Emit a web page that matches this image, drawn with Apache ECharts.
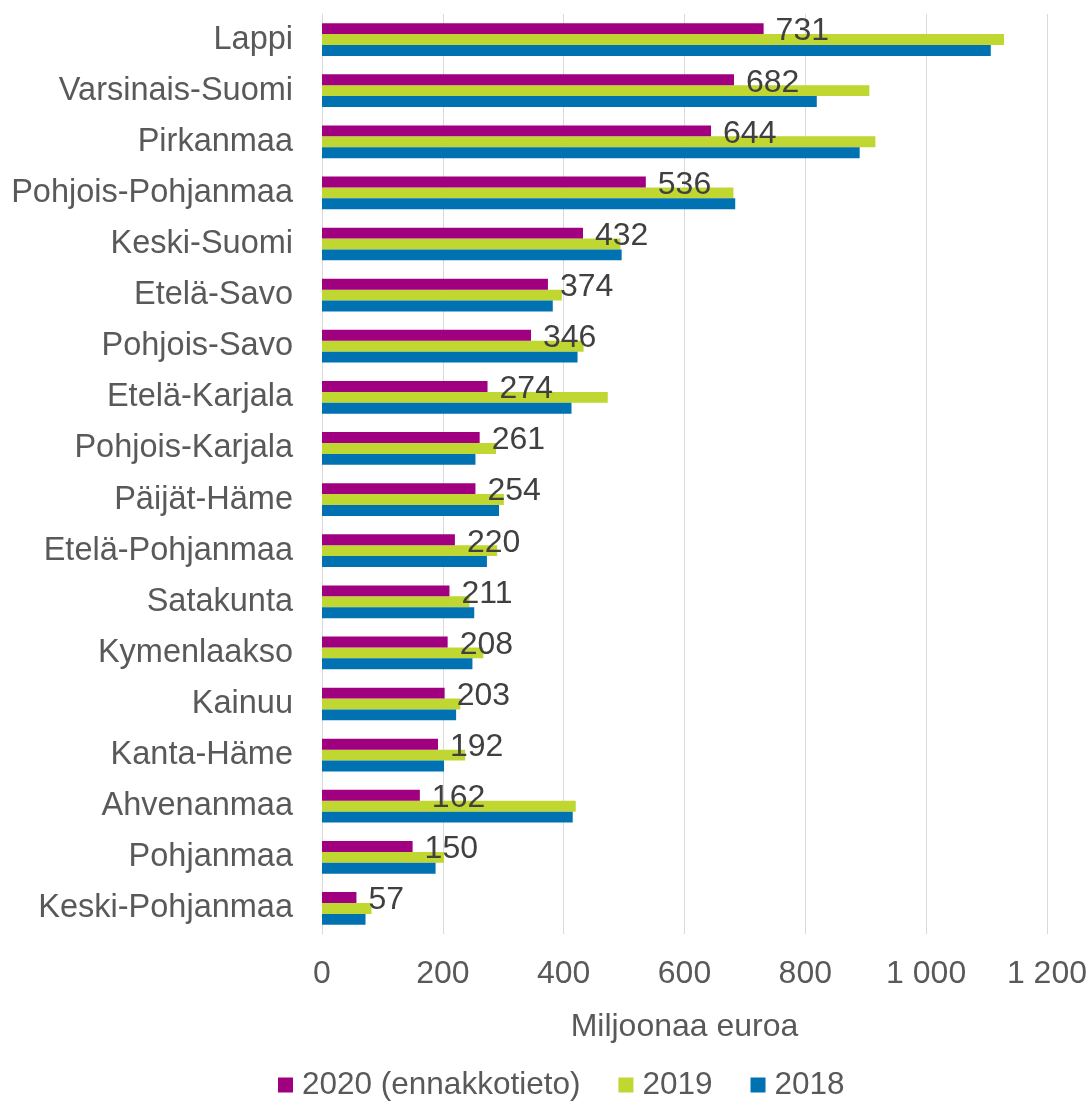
<!DOCTYPE html>
<html>
<head>
<meta charset="utf-8">
<script src="https://cdn.jsdelivr.net/npm/echarts@6/dist/echarts.min.js"></script>
<style>
  html, body { margin: 0; padding: 0; background: #fff; }
  #chart { width: 1090px; height: 1102px; }
</style>
</head>
<body>
<div id="chart"></div>
<script>
// maakunnat
var regions = ['Lappi', 'Varsinais-Suomi', 'Pirkanmaa', 'Pohjois-Pohjanmaa', 'Keski-Suomi',
    'Etelä-Savo', 'Pohjois-Savo', 'Etelä-Karjala', 'Pohjois-Karjala', 'Päijät-Häme',
    'Etelä-Pohjanmaa', 'Satakunta', 'Kymenlaakso', 'Kainuu', 'Kanta-Häme',
    'Ahvenanmaa', 'Pohjanmaa', 'Keski-Pohjanmaa'];
var values2020 = [731, 682, 644, 536, 432, 374, 346, 274, 261, 254, 220, 211, 208, 203, 192, 162, 150, 57];
var values2019 = [1129, 906, 916, 681, 494, 397, 433, 473, 288, 301, 290, 244, 267, 229, 237, 420, 202, 82];
var values2018 = [1107, 819, 890, 684, 496, 382, 423, 413, 254, 293, 273, 252, 249, 222, 202, 415, 188, 72];
var seriesNames = ['2020 (ennakkotieto)', '2019', '2018'];

var font = 'Liberation Sans, Arial, sans-serif';

var chart = echarts.init(document.getElementById('chart'));
chart.setOption({
    animation: false,
    grid: { left: 322, right: 43, top: 14, bottom: 168, containLabel: false },
    legend: {
        data: seriesNames,
        top: 1064,
        left: 273,
        icon: 'rect',
        itemWidth: 15,
        itemHeight: 15,
        itemGap: 38,
        textStyle: { fontFamily: font, fontSize: 31.5, color: '#595959', padding: [0, 0, 0, 4] }
    },
    xAxis: {
        type: 'value',
        min: 0,
        max: 1200,
        interval: 200,
        name: 'Miljoonaa euroa',
        nameLocation: 'middle',
        nameGap: 77,
        nameTextStyle: { fontFamily: font, fontSize: 32, color: '#595959' },
        axisLine: { show: false },
        axisTick: { show: false },
        axisLabel: {
            fontFamily: font, fontSize: 32, color: '#595959', margin: 24,
            formatter: function (v) { return String(v).replace(/\B(?=(\d{3})+(?!\d))/g, ' '); }
        },
        splitLine: { lineStyle: { color: '#d9d9d9', width: 1 } }
    },
    yAxis: {
        type: 'category',
        inverse: true,
        data: regions,
        axisLine: { lineStyle: { color: '#d9d9d9' } },
        axisTick: { show: false },
        axisLabel: { fontFamily: font, fontSize: 32.5, color: '#595959', margin: 29, padding: [4, 0, 0, 0] }
    },
    series: [
        {
            name: seriesNames[0], type: 'bar', data: values2020,
            barGap: 0, barCategoryGap: '36%',
            itemStyle: { color: '#a0007f' },
            label: { show: true, position: 'right', distance: 12, offset: [0, 3], fontFamily: font, fontSize: 32, color: '#404040' },
            z: 3
        },
        {
            name: seriesNames[1], type: 'bar', data: values2019,
            barGap: 0, barCategoryGap: '36%',
            itemStyle: { color: '#bfd730' }
        },
        {
            name: seriesNames[2], type: 'bar', data: values2018,
            barGap: 0, barCategoryGap: '36%',
            itemStyle: { color: '#0072b1' }
        }
    ]
});
</script>
</body>
</html>
